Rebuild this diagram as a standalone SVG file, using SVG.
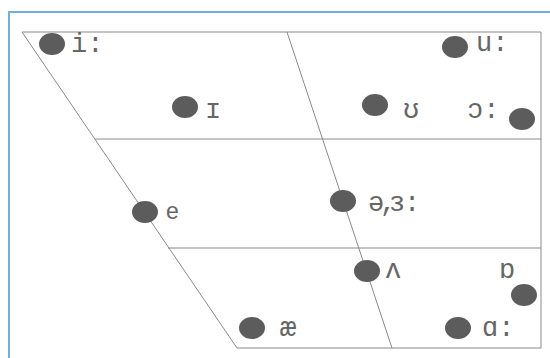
<svg xmlns="http://www.w3.org/2000/svg" width="550" height="358" viewBox="0 0 550 358">
<style>
.frame{stroke:#6fb0e6;stroke-width:2;fill:none}
.ln{stroke:#8a8a8a;stroke-width:1;fill:none}
.dot{fill:#5c5c5c}
.t{font-family:"Liberation Mono","DejaVu Sans Mono",monospace;font-size:27px;fill:#666}
.s{font-family:"Liberation Sans","DejaVu Sans",sans-serif;font-size:23px;fill:#666}
</style>
<rect width="550" height="358" fill="#ffffff"/>
<path class="frame" d="M9,358 V12 H550"/>
<g id="connectors">
<path class="ln" d="M22,32 H541 V348 H237 Z"/>
<line class="ln" x1="287" y1="32" x2="392" y2="348"/>
<line class="ln" x1="95" y1="139" x2="541" y2="139"/>
<line class="ln" x1="168" y1="248" x2="541" y2="248"/>
</g>
<g id="i-long"><ellipse class="dot" cx="52" cy="44" rx="13" ry="11"/><text class="t" x="71" y="52">i:</text></g>
<g id="i-short"><ellipse class="dot" cx="185" cy="107" rx="13" ry="11"/><text class="t" x="205" y="118">ɪ</text></g>
<g id="u-long"><ellipse class="dot" cx="455" cy="47" rx="13" ry="11"/><text class="t" x="476" y="51">u:</text></g>
<g id="u-short"><ellipse class="dot" cx="375" cy="105" rx="13" ry="11"/><text class="t" x="403" y="118">ʊ</text></g>
<g id="o-long"><text class="t" x="467" y="118">ɔ:</text><ellipse class="dot" cx="522" cy="119" rx="13" ry="11"/></g>
<g id="e"><ellipse class="dot" cx="145" cy="212" rx="13" ry="11"/><text class="s" x="166" y="219">e</text></g>
<g id="schwa"><ellipse class="dot" cx="343" cy="201" rx="13" ry="11"/><text class="t" x="368 380 389 404" y="211">ə,ɜ:</text></g>
<g id="wedge"><ellipse class="dot" cx="367" cy="271" rx="13" ry="11"/><text class="t" x="385" y="278">ʌ</text></g>
<g id="o-short"><text class="t" x="499" y="278">ɒ</text><ellipse class="dot" cx="524" cy="295" rx="13" ry="11"/></g>
<g id="ae"><ellipse class="dot" cx="252" cy="328" rx="13" ry="11"/><text class="t" x="280" y="336">æ</text></g>
<g id="a-long"><ellipse class="dot" cx="458" cy="328" rx="13" ry="11"/><text class="t" x="482" y="336">ɑ:</text></g>
</svg>
